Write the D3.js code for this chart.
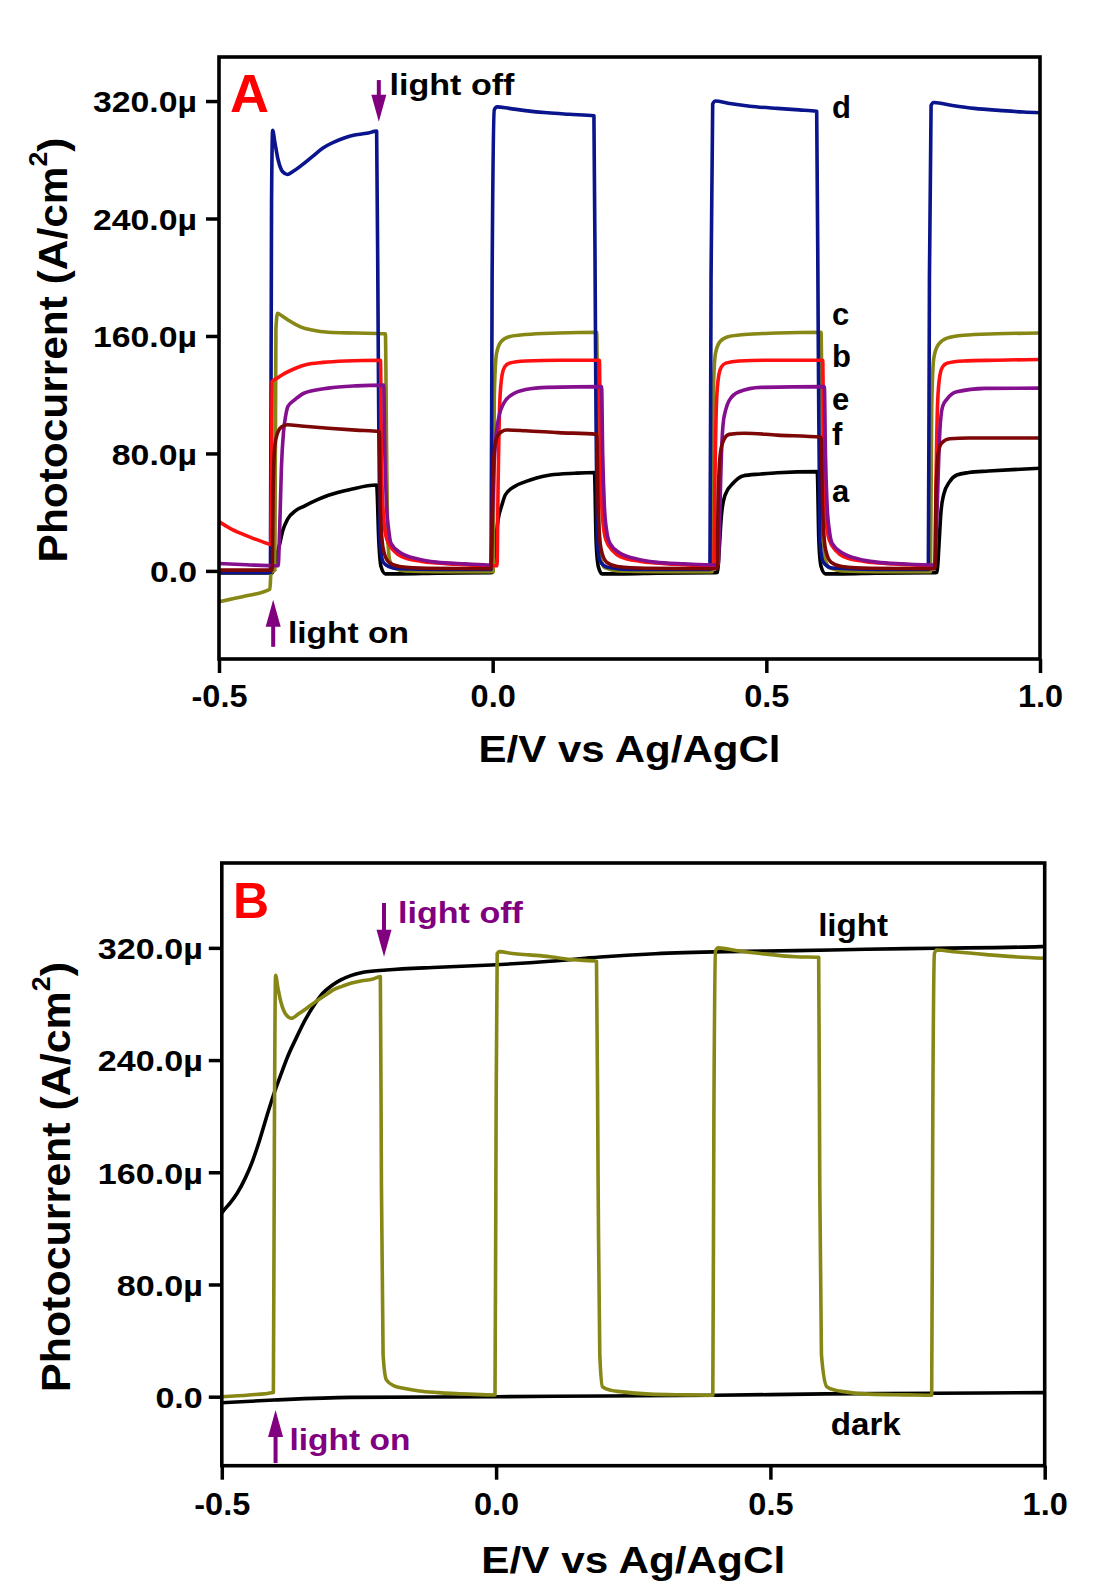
<!DOCTYPE html>
<html>
<head>
<meta charset="utf-8">
<script src="https://cdn.jsdelivr.net/npm/d3@7"></script>
<style>
  body { margin: 0; background: #ffffff; }
  svg { display: block; }
  text { font-family: "Liberation Sans", Arial, sans-serif; font-weight: bold; }
</style>
</head>
<body>
<svg id="chart" width="1100" height="1595"></svg>
<script>
// ---------------- DATA ----------------
const xTickValues = [-0.5, 0.0, 0.5, 1.0];
const yTickValues = [0, 80, 160, 240, 320];
const xTitle = "E/V vs Ag/AgCl";
const yTitleMain = "Photocurrent (A/cm";
const yTitleSup = "2";
const yTitleEnd = ")";

// Panel A series: [E (V), photocurrent (µA/cm²)]
const seriesA_a = [
  [-0.5,-1.4],[-0.403,-1.4],[-0.4,2],[-0.396,8],[-0.39,17],[-0.383,28],[-0.375,35],[-0.36,41],[-0.345,44],[-0.32,48.5],[-0.3,51.5],[-0.26,55.5],[-0.212,58.5],
  [-0.208,20],[-0.204,3],[-0.196,-2],[-0.17,-2],[-0.1,-1.5],[-0.003,-1.2],
  [0.0,-1],[0.004,15],[0.01,35],[0.017,45],[0.023,51.7],[0.04,57.5],[0.06,60.8],[0.08,63.3],[0.105,65.3],[0.15,66.5],[0.186,67],
  [0.189,20],[0.193,3],[0.2,-2],[0.24,-2],[0.3,-1.5],[0.408,-1.2],
  [0.411,-1],[0.414,15],[0.418,38],[0.425,52],[0.44,60],[0.457,64.7],[0.49,66],[0.52,66.9],[0.593,67.6],
  [0.596,20],[0.6,3],[0.608,-2],[0.64,-2],[0.7,-1.5],[0.809,-1.2],
  [0.812,-1],[0.815,15],[0.819,40],[0.824,52],[0.835,60.8],[0.848,65.3],[0.87,67],[0.906,68],[0.95,69],[1.0,69.9]
];
const seriesA_b = [
  [-0.5,33.6],[-0.48,29],[-0.46,25.5],[-0.44,22.5],[-0.42,19.8],[-0.405,18],
  [-0.403,129],[-0.395,131],[-0.38,134.5],[-0.36,138],[-0.34,140.5],[-0.31,142],[-0.27,143],[-0.205,143.5],
  [-0.203,70],[-0.199,35],[-0.193,21],[-0.18,13.5],[-0.166,9.7],[-0.13,6.5],[-0.103,5.4],[-0.05,4.2],[-0.013,3.6],[0.008,3.5],
  [0.01,60],[0.013,115],[0.017,133],[0.022,139],[0.03,141.5],[0.06,143],[0.12,143.5],[0.195,143.5],
  [0.197,70],[0.201,35],[0.207,21],[0.22,13.5],[0.233,9.7],[0.27,6.5],[0.297,5.4],[0.35,4.2],[0.387,3.6],[0.404,3.5],
  [0.406,60],[0.409,115],[0.413,133],[0.418,139],[0.426,141.5],[0.45,143],[0.52,143.5],[0.603,143.5],
  [0.605,70],[0.609,35],[0.615,21],[0.628,13.5],[0.641,9.7],[0.678,6.5],[0.705,5.4],[0.76,4.2],[0.795,3.6],[0.808,3.5],
  [0.81,60],[0.813,115],[0.817,133],[0.822,139],[0.83,141.5],[0.86,143],[0.92,143.5],[1.0,144]
];
const seriesA_c = [
  [-0.5,-21],[-0.45,-17],[-0.407,-12.5],[-0.405,-1],[-0.398,0.5],[-0.396,165],[-0.393,175.5],[-0.386,174],[-0.37,170],[-0.35,166],[-0.33,164],[-0.3,162.5],[-0.25,162],[-0.196,161.5],
  [-0.194,90],[-0.192,25],[-0.188,7],[-0.18,2],[-0.16,0],[-0.1,-0.5],[0.001,-0.5],
  [0.003,120],[0.007,148],[0.015,156],[0.03,159.5],[0.06,161],[0.12,162],[0.19,162.5],
  [0.192,90],[0.194,25],[0.198,7],[0.206,2],[0.23,0],[0.3,-0.5],[0.401,-0.5],
  [0.403,120],[0.407,148],[0.415,156],[0.43,159.5],[0.46,161],[0.52,162],[0.6,162.5],
  [0.602,90],[0.604,25],[0.608,7],[0.616,2],[0.64,0],[0.7,-0.5],[0.8,-0.5],
  [0.802,110],[0.806,145],[0.814,154],[0.83,158.5],[0.86,160.5],[0.92,161.5],[1.0,162]
];
const seriesA_d = [
  [-0.5,-1],[-0.406,-1],[-0.404,250],[-0.402,300],[-0.398,292],[-0.392,280],[-0.384,272],[-0.375,270],[-0.365,272],[-0.35,276],[-0.33,282],[-0.31,288],[-0.29,292],[-0.27,295],[-0.25,297],[-0.23,298],[-0.212,299.5],
  [-0.209,150],[-0.206,20],[-0.2,6],[-0.19,3],[-0.17,1.5],[-0.1,1],[-0.003,1],
  [-0.001,200],[0.003,314],[0.008,316],[0.03,315],[0.06,313.5],[0.1,312],[0.14,311],[0.185,310],
  [0.188,150],[0.191,20],[0.197,6],[0.21,2.5],[0.25,1],[0.397,1],
  [0.399,200],[0.402,318],[0.407,320],[0.43,318.5],[0.47,316.5],[0.52,315],[0.56,314],[0.592,313],
  [0.595,150],[0.598,20],[0.604,6],[0.62,2],[0.7,1],[0.796,1],
  [0.798,200],[0.801,317],[0.806,319],[0.84,317],[0.88,315],[0.93,313.5],[0.97,312.5],[1.0,312]
];
const seriesA_e = [
  [-0.5,5],[-0.45,4.2],[-0.392,3.5],[-0.389,30],[-0.386,70],[-0.382,95],[-0.378,106],[-0.374,112],[-0.36,117],[-0.345,121],[-0.3,124.5],[-0.25,126],[-0.199,126.5],
  [-0.197,80],[-0.194,45],[-0.19,28],[-0.186,19],[-0.167,12],[-0.135,8],[-0.103,6],[-0.05,4.8],[-0.003,4],
  [0.0,40],[0.003,75],[0.007,95],[0.012,106],[0.02,114],[0.035,120],[0.06,123.5],[0.1,125],[0.199,125.5],
  [0.201,80],[0.204,45],[0.208,28],[0.214,19],[0.233,12],[0.265,8],[0.297,6],[0.35,4.8],[0.412,4],
  [0.415,40],[0.418,80],[0.421,100],[0.426,110],[0.432,116],[0.45,122],[0.49,125],[0.606,125.5],
  [0.608,80],[0.611,45],[0.615,28],[0.62,19],[0.64,12],[0.67,8],[0.702,6],[0.75,4.8],[0.808,4],
  [0.811,30],[0.814,65],[0.817,95],[0.822,112],[0.83,117],[0.848,122],[0.9,124.3],[1.0,124.5]
];
const seriesA_f = [
  [-0.5,0.5],[-0.403,0.5],[-0.401,55],[-0.398,85],[-0.393,94],[-0.386,98],[-0.375,99.5],[-0.35,98.7],[-0.3,97.2],[-0.25,95.9],[-0.207,95],
  [-0.205,40],[-0.2,15],[-0.19,6],[-0.17,3],[-0.12,1.8],[-0.003,1.5],
  [0.0,55],[0.004,85],[0.009,92],[0.017,95],[0.025,96],[0.06,95.5],[0.12,94.2],[0.19,93],
  [0.193,40],[0.198,15],[0.208,6],[0.228,3],[0.28,1.8],[0.41,1.5],
  [0.412,50],[0.416,80],[0.422,89],[0.432,93],[0.46,93.8],[0.52,92.5],[0.6,91],
  [0.603,40],[0.608,15],[0.618,6],[0.638,3],[0.69,1.8],[0.808,1.5],
  [0.81,50],[0.814,80],[0.82,87],[0.835,90],[0.87,90.5],[1.0,90.5]
];

// Panel B series
const seriesB_dark = [
  [-0.5,-4.3],[-0.405,-2.4],[-0.265,-0.5],[0.0,0],[0.2,0.5],[0.4,1],[0.6,2],[0.8,2.5],[1.0,2.9]
];
const seriesB_light = [
  [-0.5,131],[-0.495,133.5],[-0.485,138],[-0.472,145],[-0.457,156],[-0.444,168],[-0.431,183],[-0.418,200],[-0.405,216],[-0.392,230],[-0.38,242.4],[-0.364,256],[-0.348,268.6],[-0.332,279],[-0.316,287.6],[-0.3,293],[-0.284,297],[-0.265,300.2],[-0.246,302.3],[-0.2,304.2],[-0.105,306.2],[-0.009,307.8],[0.098,310.4],[0.19,313.5],[0.29,315.8],[0.418,317.3],[0.546,318],[0.674,319],[0.802,319.7],[0.993,320.9],[1.0,321]
];
const seriesB_chopped = [
  [-0.5,0],[-0.45,1.2],[-0.406,3],[-0.404,200],[-0.402,300.5],[-0.398,292],[-0.392,281],[-0.384,273],[-0.373,269.8],[-0.36,273],[-0.345,277],[-0.329,281.6],[-0.31,286.5],[-0.297,290],[-0.28,292.7],[-0.265,294.8],[-0.245,296.5],[-0.226,297.6],[-0.211,299.5],
  [-0.209,150],[-0.206,30],[-0.2,12],[-0.185,7.5],[-0.169,6],[-0.14,4],[-0.105,2.9],[-0.05,1.8],[-0.002,1.2],
  [0.0,200],[0.002,316],[0.006,317.3],[0.03,316],[0.06,315],[0.098,313.7],[0.14,311.5],[0.183,310.5],
  [0.186,150],[0.189,30],[0.194,7],[0.21,4.5],[0.226,3.6],[0.28,1.8],[0.35,1.3],[0.395,1],
  [0.397,200],[0.4,318],[0.405,320],[0.44,318],[0.482,316],[0.546,313.7],[0.588,313.3],
  [0.59,150],[0.593,30],[0.603,7],[0.62,4.5],[0.633,3.6],[0.68,1.8],[0.75,1.3],[0.794,1],
  [0.796,200],[0.799,316],[0.803,318.5],[0.84,317],[0.9,315],[0.95,313.5],[1.0,312.6]
];

// Curve labels (text, E, current)
const labelsA = [["d",0.62,308.4],["c",0.62,167.5],["b",0.62,138.9],["e",0.62,109.6],["f",0.62,85.8],["a",0.62,47.0]];
const labelsB = [["light",0.587,328.5],["dark",0.61,-27.3]];

// ---------------- DRAW ----------------
const svg = d3.select("#chart");
svg.append("rect").attr("width",1100).attr("height",1595).attr("fill","#ffffff");

const PURPLE = "#800080";
const FONT = { ytick: 30, xtick: 31, xtitle: 37, ytitle: 40, anno: 30, letter: 31 };

function addText(parent, str, px, py, size, color, targetW, anchor) {
  const t = parent.append("text")
    .attr("font-size", size).attr("fill", color)
    .attr("text-anchor", anchor || "start").text(str);
  const w = t.node().getComputedTextLength();
  const k = targetW ? targetW / w : 1;
  t.attr("transform", `translate(${px},${py}) scale(${k},1)`);
  return t;
}

function arrow(g, x, yTail, yTip, color) {
  const dir = yTip > yTail ? 1 : -1;
  const headLen = 27, headHalf = 7.5;
  g.append("line").attr("x1", x).attr("x2", x)
    .attr("y1", yTail).attr("y2", yTip - dir*headLen + dir*2)
    .attr("stroke", color).attr("stroke-width", 4);
  g.append("path")
    .attr("d", `M${x-headHalf},${yTip - dir*headLen} L${x+headHalf},${yTip - dir*headLen} L${x},${yTip} Z`)
    .attr("fill", color);
}

function drawPanel(cfg) {
  const g = svg.append("g");
  const x = d3.scaleLinear().domain([-0.5, 1.0]).range(cfg.xRange);
  const y = d3.scaleLinear().domain(cfg.yDomain).range(cfg.yRange);
  const clipId = "clip" + cfg.name;
  g.append("clipPath").attr("id", clipId).append("rect")
    .attr("x", cfg.xRange[0]).attr("y", cfg.yRange[1])
    .attr("width", cfg.xRange[1]-cfg.xRange[0]).attr("height", cfg.yRange[0]-cfg.yRange[1]);

  const line = d3.line().x(d => x(d[0])).y(d => y(d[1])).curve(d3.curveMonotoneX);
  const plot = g.append("g").attr("clip-path", `url(#${clipId})`);
  cfg.series.forEach(s => {
    plot.append("path").datum(s.data).attr("d", line)
      .attr("fill", "none").attr("stroke", s.color).attr("stroke-width", 3.6)
      .attr("stroke-linejoin", "round").attr("stroke-linecap", "round");
  });

  // axes
  const xAxis = d3.axisBottom(x).tickValues(xTickValues).tickFormat(d => d.toFixed(1)).tickSize(14).tickSizeOuter(0);
  const yAxis = d3.axisLeft(y).tickValues(yTickValues).tickFormat(d => d === 0 ? "0.0" : d.toFixed(1) + "\u00b5").tickSize(13).tickSizeOuter(0);
  const gx = g.append("g").attr("transform", `translate(0,${cfg.yRange[0]})`).call(xAxis);
  const gy = g.append("g").attr("transform", `translate(${cfg.xRange[0]},0)`).call(yAxis);
  [gx, gy].forEach(a => { a.attr("font-family", null).attr("font-size", null); a.select(".domain").remove(); a.selectAll(".tick line").attr("stroke", "#000").attr("stroke-width", 3.5); });

  // y tick labels
  const ytexts = gy.selectAll(".tick text").attr("x", 0).attr("dy", "0.36em").attr("font-size", FONT.ytick).attr("fill", "#000");
  let wmax = 0; ytexts.each(function(){ wmax = Math.max(wmax, this.getComputedTextLength()); });
  const ky = cfg.yTickW / wmax;
  ytexts.attr("transform", `translate(${-cfg.yTickGap},0) scale(${ky},1)`);
  // x tick labels
  const xtexts = gx.selectAll(".tick text").attr("y", 0).attr("dy", 0).attr("font-size", FONT.xtick).attr("fill", "#000");
  let wx = 0; xtexts.each(function(){ wx = Math.max(wx, this.getComputedTextLength()); });
  const kx = cfg.xTickW / wx;
  xtexts.attr("transform", `translate(0,${cfg.xTickBase}) scale(${kx},1)`);

  // frame
  g.append("rect").attr("x", cfg.xRange[0]).attr("y", cfg.yRange[1])
    .attr("width", cfg.xRange[1]-cfg.xRange[0]).attr("height", cfg.yRange[0]-cfg.yRange[1])
    .attr("fill", "none").attr("stroke", "#000").attr("stroke-width", 3.6);

  // titles
  const cx = (cfg.xRange[0] + cfg.xRange[1]) / 2;
  addText(g, xTitle, cx, cfg.xTitleBase, FONT.xtitle, "#000", cfg.xTitleW, "middle");
  const yt = g.append("text").attr("font-size", FONT.ytitle).attr("fill", "#000").attr("text-anchor", "middle");
  yt.append("tspan").text(yTitleMain);
  yt.append("tspan").attr("font-size", 25).attr("dy", -20).text(yTitleSup);
  yt.append("tspan").attr("dy", 20).text(yTitleEnd);
  const kt = cfg.yTitleLen / yt.node().getComputedTextLength();
  yt.attr("transform", `translate(${cfg.yTitleX},${cfg.yTitleY}) rotate(-90) scale(${kt},1)`);

  // panel letter
  addText(g, cfg.name, x(cfg.letterPos[0]), y(cfg.letterPos[1]), cfg.letterSize, "#ff0000");

  // annotations
  cfg.annos.forEach(a => addText(g, a.text, x(a.pos[0]), y(a.pos[1]), FONT.anno, a.color, a.w));
  cfg.arrows.forEach(a => arrow(g, x(a.x), y(a.tail), y(a.tip), PURPLE));
  cfg.curveLabels.forEach(l => addText(g, l[0], x(l[1]), y(l[2]), FONT.letter, "#000", l[3]));
}

drawPanel({
  name: "A",
  xRange: [219, 1040], yDomain: [-60, 350], yRange: [659, 57],
  yTickW: 104, yTickGap: 22, xTickW: 56, xTickBase: 48,
  xTitleBase: 762, xTitleW: 302,
  yTitleX: 67, yTitleY: 350, yTitleLen: 425,
  letterPos: [-0.48, 312.5], letterSize: 54,
  series: [
    { data: seriesA_a, color: "#000000" },
    { data: seriesA_c, color: "#878716" },
    { data: seriesA_d, color: "#0a148c" },
    { data: seriesA_b, color: "#ff1010" },
    { data: seriesA_e, color: "#85108f" },
    { data: seriesA_f, color: "#7d0606" }
  ],
  annos: [
    { text: "light off", pos: [-0.1885, 324.1], color: "#000", w: 125 },
    { text: "light on", pos: [-0.374, -49.0], color: "#000", w: 121 }
  ],
  arrows: [
    { x: -0.208, tail: 334.3, tip: 305.9 },
    { x: -0.401, tail: -51.7, tip: -19.7 }
  ],
  curveLabels: labelsA.map(l => [l[0], l[1], l[2], null])
});

drawPanel({
  name: "B",
  xRange: [221.8, 1044.7], yDomain: [-49.2, 380.5], yRange: [1465.7, 863],
  yTickW: 105, yTickGap: 19, xTickW: 56, xTickBase: 49,
  xTitleBase: 1573, xTitleW: 304,
  yTitleX: 70, yTitleY: 1177, yTitleLen: 430,
  letterPos: [-0.4796, 341.3], letterSize: 50,
  series: [
    { data: seriesB_dark, color: "#000000" },
    { data: seriesB_light, color: "#000000" },
    { data: seriesB_chopped, color: "#878716" }
  ],
  annos: [
    { text: "light off", pos: [-0.1788, 337.8], color: PURPLE, w: 125 },
    { text: "light on", pos: [-0.3766, -38.0], color: PURPLE, w: 121 }
  ],
  arrows: [
    { x: -0.2043, tail: 352, tip: 313.7 },
    { x: -0.402, tail: -47.3, tip: -9.5 }
  ],
  curveLabels: labelsB.map(l => [l[0], l[1], l[2], 70])
});
</script>
</body>
</html>
